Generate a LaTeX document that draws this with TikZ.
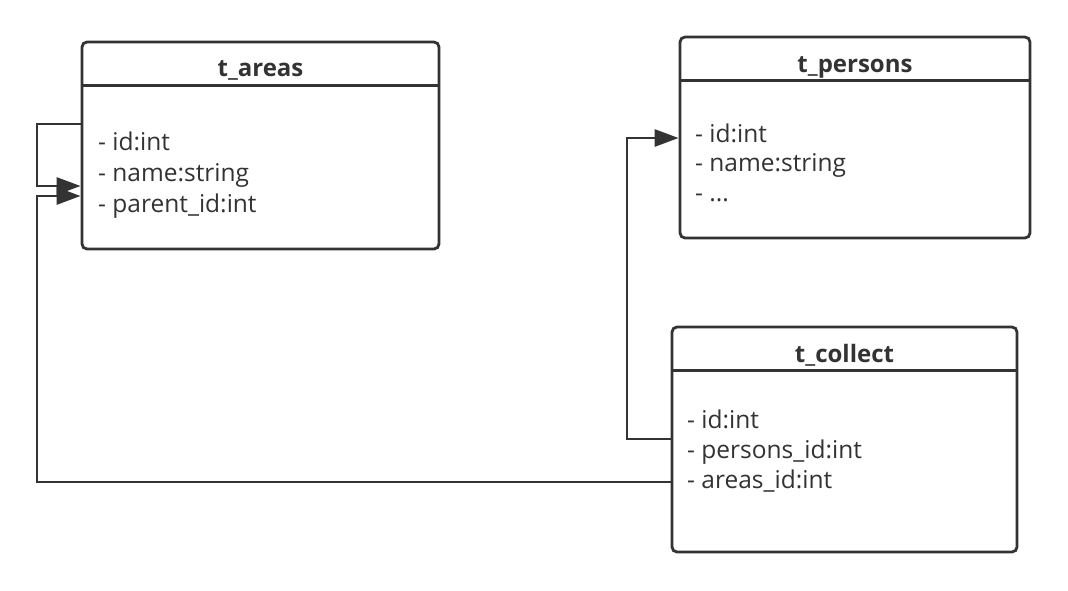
\documentclass[tikz,border=0pt]{standalone}
\usepackage{fontspec}
\setmainfont{Open Sans}
\usetikzlibrary{calc,arrows.meta}
\definecolor{ink}{HTML}{333333}
\tikzset{
  tbl/.style={draw=ink, line width=2.8pt, rounded corners=5pt, inner sep=0pt, fill=white},
  ttl/.style={anchor=base, text=ink, font=\fontsize{24}{28}\selectfont\bfseries, inner sep=0pt},
  row/.style={anchor=base west, text=ink, font=\fontsize{24.5}{28}\selectfont, inner sep=0pt},
  hline/.style={draw=ink, line width=2.8pt},
  conn/.style={draw=ink, line width=2.8pt, -{Triangle[length=24pt,width=17pt]}}
}
\begin{document}
\begin{tikzpicture}[x=1pt,y=-1pt]
\useasboundingbox (0,0) rectangle (1068,590);
% tables
\node[tbl, minimum width=357pt, minimum height=207pt] (areas) at (260.5,145.5) {};
\node[tbl, minimum width=350pt, minimum height=201pt] (persons) at (855,137.5) {};
\node[tbl, minimum width=345pt, minimum height=225pt] (collect) at (844.5,439.5) {};
% header separators
\draw[hline] ($(areas.north west)+(0,45)$) -- ($(areas.north east)+(0,45)$);
\draw[hline] ($(persons.north west)+(0,45)$) -- ($(persons.north east)+(0,45)$);
\draw[hline] ($(collect.north west)+(0,45)$) -- ($(collect.north east)+(0,45)$);
% titles
\node[ttl] (areasT) at (260.5,76) {t\_areas};
\node[ttl] (personsT) at (855,72) {t\_persons};
\node[ttl] (collectT) at (844.5,362) {t\_collect};
% rows
\node[row] (a1) at (98,150) {- id:int};
\node[row] (a2) at (98,181) {- name:string};
\node[row] (a3) at (98,212) {- parent\_id:int};
\node[row] (p1) at (695,142) {- id:int};
\node[row] (p2) at (695,171) {- name:string};
\node[row] (p3) at (695,201) {- ...};
\node[row] (c1) at (687,428) {- id:int};
\node[row] (c2) at (687,458) {- persons\_id:int};
\node[row] (c3) at (687,488) {- areas\_id:int};
% connector anchor points
\coordinate (loopS) at (areas.west |- 0,124);
\coordinate (loopE) at (areas.west |- 0,186);
\coordinate (caE) at (areas.west |- 0,196);
\coordinate (caS) at (collect.west |- 0,482);
\coordinate (cpS) at (collect.west |- 0,439);
\coordinate (cpE) at (persons.west |- 0,138);
% connectors
\draw[conn] (loopS) -- (37,124) -- (37,186) -- (loopE);
\draw[conn] (caS) -- (37,482) -- (37,196) -- (caE);
\draw[conn] (cpS) -- (627,439) -- (627,138) -- (cpE);
\end{tikzpicture}
\end{document}
